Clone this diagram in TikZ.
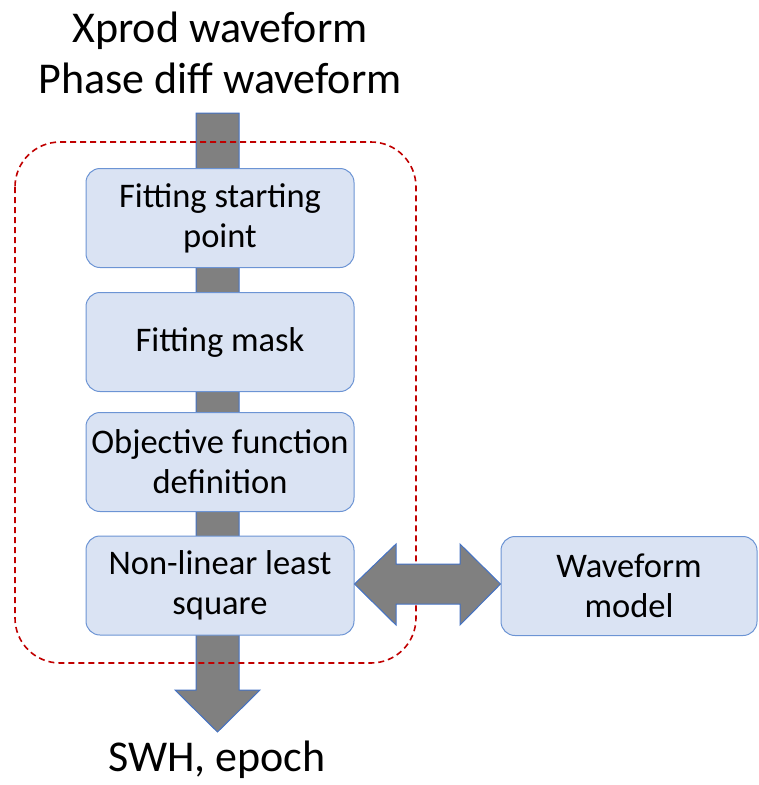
\documentclass[tikz,border=0pt]{standalone}
\usepackage{fontspec}
\setmainfont{Carlito}
\definecolor{boxfill}{HTML}{DAE3F3}
\definecolor{boxline}{HTML}{6C94D4}
\definecolor{arrgray}{HTML}{808080}
\definecolor{arrline}{HTML}{4472C4}
\definecolor{dashred}{HTML}{C00000}
\tikzset{
  stepbox/.style={draw=boxline, fill=boxfill, line width=1pt, rounded corners=14pt,
    minimum width=268pt, minimum height=99pt, align=center, inner sep=0pt,
    font=\fontsize{34.5}{40}\selectfont},
  bigtext/.style={align=center, font=\fontsize{44}{51}\selectfont, inner sep=0pt},
  grayarrow/.style={fill=arrgray, draw=arrline, line width=1pt, line join=miter},
  redframe/.style={draw=dashred, line width=1.6pt, dash pattern=on 6pt off 4pt, rounded corners=45pt}
}
\begin{document}
\begin{tikzpicture}[x=1pt,y=-1pt]
\useasboundingbox (0,0) rectangle (759,785);
% titles
\node[bigtext] (in) at (220,53) {Xprod waveform\\Phase diff waveform};
\node[bigtext] (out) at (217,760) {SWH, epoch};
% vertical shaft and bottom arrow
\coordinate (shafttop) at (217.5,113);
\draw[grayarrow] (196,113) -- (239,113) -- (239,690) -- (260,690) -- (217.5,732) -- (175,690) -- (196,690) -- cycle;
% boxes
\node[stepbox] (b1) at (220,218) {Fitting starting\\point};
\node[stepbox] (b2) at (220,342) {Fitting mask};
\node[stepbox] (b3) at (220,462) {Objective function\\definition};
\node[stepbox] (b4) at (220,585.5) {Non-linear least\\square};
\node[stepbox, minimum width=256pt] (wm) at (629,586) {Waveform\\model};
% dashed frame
\draw[redframe] (15,142) rectangle (416,663);
% double arrow
\draw[grayarrow] (b4.east |- 0,584) -- (396,544) -- (396,564) -- (460,564) -- (460,544) -- (wm.west |- 0,584)
  -- (460,625) -- (460,604) -- (396,604) -- (396,625) -- cycle;
\end{tikzpicture}
\end{document}
